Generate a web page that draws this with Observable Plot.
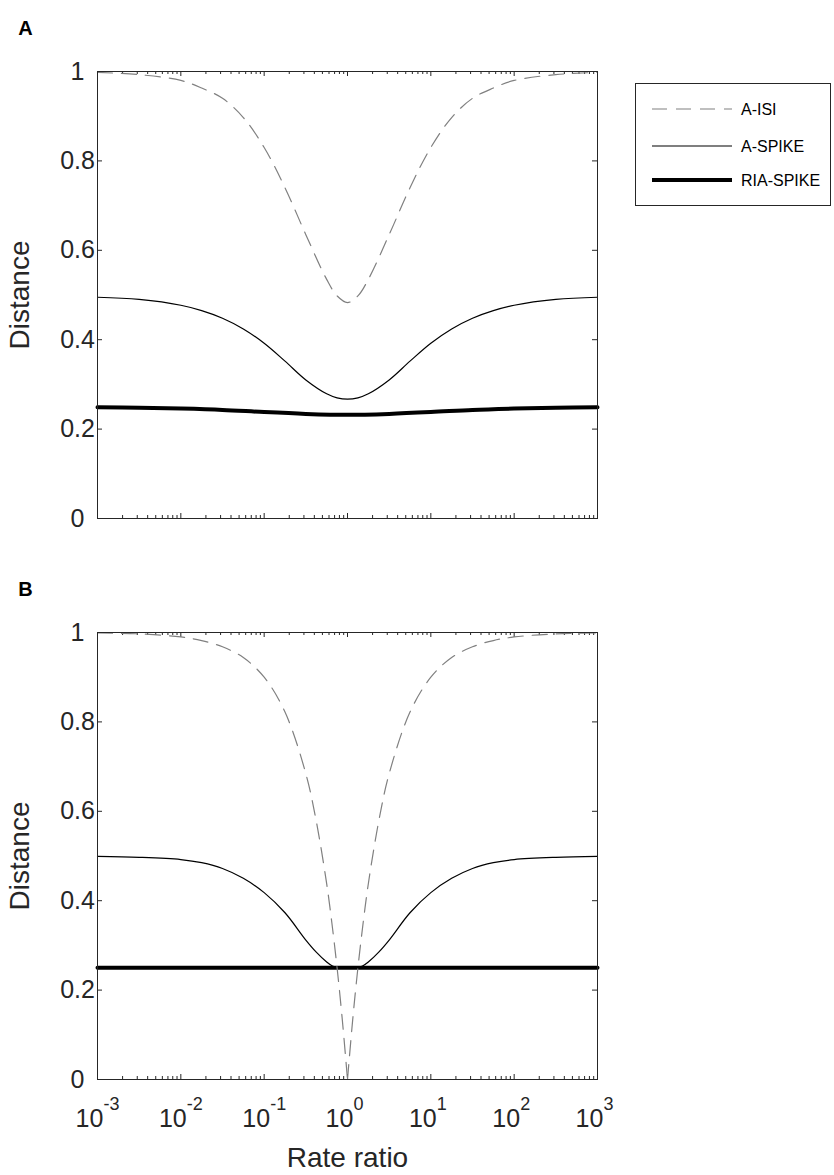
<!DOCTYPE html>
<html>
<head>
<meta charset="utf-8">
<script src="https://cdn.jsdelivr.net/npm/d3@7"></script>
<script src="https://cdn.jsdelivr.net/npm/@observablehq/plot@0.6"></script>
<style>
  html, body { margin: 0; padding: 0; background: #fff; }
  #root { position: relative; width: 834px; height: 1175px; font-family: "Liberation Sans", Arial, sans-serif; }
  #root svg { position: absolute; left: 0; }
  #legend { position: absolute; left: 635px; top: 83px; width: 196px; height: 123px; border: 1px solid #262626; box-sizing: border-box; background: #fff; }
</style>
</head>
<body>
<div id="root"></div>
<script>
// ---- Data ----
// x positions given as exponents of 10 (rate ratio = 10^exp)
const expA = [-3, -2.5, -2, -1.75, -1.5, -1.25, -1, -0.75, -0.5, -0.25, -0.125, 0, 0.125, 0.25, 0.5, 0.75, 1, 1.25, 1.5, 1.75, 2, 2.5, 3];
const aIsiA = [0.998, 0.993, 0.98, 0.963, 0.94, 0.897, 0.83, 0.74, 0.635, 0.535, 0.498, 0.483, 0.498, 0.535, 0.635, 0.74, 0.83, 0.897, 0.94, 0.963, 0.98, 0.993, 0.998];
const aSpikeA = [0.495, 0.49, 0.477, 0.465, 0.448, 0.424, 0.392, 0.352, 0.31, 0.279, 0.27, 0.267, 0.27, 0.279, 0.31, 0.352, 0.392, 0.424, 0.448, 0.465, 0.477, 0.49, 0.495];
const expRiaA = [-3, -2.5, -2, -1.5, -1, -0.5, 0, 0.5, 1, 1.5, 2, 2.5, 3];
const riaSpikeA = [0.249, 0.248, 0.246, 0.243, 0.238, 0.234, 0.232, 0.234, 0.238, 0.243, 0.246, 0.248, 0.249];

// panel B A-ISI: left branch and right branch (sharp V at rate ratio 1)
const expIsiBLeft = [-3, -2.5, -2, -1.75, -1.5, -1.25, -1, -0.75, -0.5, -0.375, -0.25, -0.1875, -0.125, -0.0625, 0];
const aIsiBLeft = [0.999, 0.997, 0.99, 0.982, 0.968, 0.944, 0.9, 0.822, 0.684, 0.578, 0.438, 0.35, 0.25, 0.134, 0];
const expIsiBRight = [0, 0.0625, 0.125, 0.1875, 0.25, 0.375, 0.5, 0.75, 1, 1.25, 1.5, 1.75, 2, 2.5, 3];
const aIsiBRight = [0, 0.134, 0.25, 0.35, 0.438, 0.578, 0.684, 0.822, 0.9, 0.944, 0.968, 0.982, 0.99, 0.997, 0.999];
const expSpikeB = [-3, -2.5, -2, -1.75, -1.5, -1.25, -1, -0.75, -0.5, -0.375, -0.25, -0.18, -0.12, 0, 0.12, 0.18, 0.25, 0.375, 0.5, 0.75, 1, 1.25, 1.5, 1.75, 2, 2.5, 3];
const aSpikeB = [0.499, 0.497, 0.492, 0.485, 0.472, 0.45, 0.418, 0.373, 0.312, 0.285, 0.263, 0.254, 0.25, 0.25, 0.25, 0.254, 0.263, 0.285, 0.312, 0.373, 0.418, 0.45, 0.472, 0.485, 0.492, 0.497, 0.499];
const expRiaB = [-3, 0, 3];
const riaSpikeB = [0.25, 0.25, 0.25];

const yTicks = [0, 0.2, 0.4, 0.6, 0.8, 1];
const xTickExps = [-3, -2, -1, 0, 1, 2, 3];
const minorFactors = [2, 3, 4, 5, 6, 7, 8, 9];
const seriesNames = ["A-ISI", "A-SPIKE", "RIA-SPIKE"];

// ---- helpers ----
const AX = "#262626";
const ISI_COLOR = "#808080";
const DASH = "15,9";
const FONT = "Liberation Sans, Arial, Helvetica, sans-serif";
const toPts = (exps, vals) => exps.map((e, i) => ({x: Math.pow(10, e), y: vals[i]}));
const xMajor = xTickExps.map(e => Math.pow(10, e));
const xMinor = xTickExps.slice(0, -1).flatMap(e => minorFactors.map(f => f * Math.pow(10, e)));

const W = 834, ML = 97, MR = 237;
const PW = W - ML - MR; // 500
const PH = 447;
const TICK_FS = 25, LABEL_FS = 28, SUP_FS = 18;

function panel({top, height, mt, mb, letter, isiParts, spike, ria, showX}) {
  const marks = [
    // ticks inside the box
    Plot.tickY(yTicks, {y: d => d, insetRight: PW - 5, stroke: AX}),
    Plot.tickY(yTicks, {y: d => d, insetLeft: PW - 5, stroke: AX}),
    Plot.tickX(xMajor, {x: d => d, insetTop: PH - 5, stroke: AX}),
    Plot.tickX(xMajor, {x: d => d, insetBottom: PH - 5, stroke: AX}),
    Plot.tickX(xMinor, {x: d => d, insetTop: PH - 3, stroke: AX}),
    Plot.tickX(xMinor, {x: d => d, insetBottom: PH - 3, stroke: AX}),
    // data lines
    Plot.line(ria, {x: "x", y: "y", stroke: "#000", strokeWidth: 4, curve: "catmull-rom"}),
    Plot.line(spike, {x: "x", y: "y", stroke: "#000", strokeWidth: 1.2, curve: "catmull-rom"}),
    ...isiParts.map(p => Plot.line(p, {x: "x", y: "y", stroke: ISI_COLOR, strokeWidth: 1.2, strokeDasharray: DASH, curve: "catmull-rom"})),
    Plot.frame({stroke: AX, strokeWidth: 1}),
    // y tick labels
    Plot.text(yTicks, {y: d => d, text: d => String(d), frameAnchor: "left", dx: -20, textAnchor: "middle", lineAnchor: "middle", fontSize: TICK_FS, fill: AX}),
    // y axis label
    Plot.text(["Distance"], {frameAnchor: "left", dx: -77, rotate: -90, textAnchor: "middle", lineAnchor: "middle", fontSize: LABEL_FS, fill: AX}),
    // panel letter
    Plot.text([letter], {frameAnchor: "top-left", dx: -72, dy: -43, textAnchor: "middle", lineAnchor: "middle", fontSize: 20, fontWeight: "bold", fill: "#000"})
  ];
  if (showX) {
    marks.push(
      Plot.text(xTickExps, {x: e => Math.pow(10, e), text: () => "10", frameAnchor: "bottom", dy: 39, dx: -8, textAnchor: "middle", lineAnchor: "middle", fontSize: TICK_FS, fill: AX}),
      Plot.text(xTickExps, {x: e => Math.pow(10, e), text: e => String(e), frameAnchor: "bottom", dy: 25, dx: 6, textAnchor: "start", lineAnchor: "middle", fontSize: SUP_FS, fill: AX}),
      Plot.text(["Rate ratio"], {frameAnchor: "bottom", dy: 79, textAnchor: "middle", lineAnchor: "middle", fontSize: LABEL_FS, fill: AX})
    );
  }
  const svg = Plot.plot({
    width: W, height,
    marginLeft: ML, marginRight: MR, marginTop: mt, marginBottom: mb,
    style: {fontFamily: FONT, background: "transparent", overflow: "visible"},
    x: {type: "log", domain: [1e-3, 1e3], axis: null},
    y: {domain: [0, 1], axis: null},
    marks
  });
  svg.style.top = top + "px";
  return svg;
}

const root = document.getElementById("root");
root.appendChild(panel({
  top: 0, height: 560, mt: 71, mb: 42, letter: "A",
  isiParts: [toPts(expA, aIsiA)], spike: toPts(expA, aSpikeA), ria: toPts(expRiaA, riaSpikeA), showX: false
}));
root.appendChild(panel({
  top: 560, height: 615, mt: 72, mb: 96, letter: "B",
  isiParts: [toPts(expIsiBLeft, aIsiBLeft), toPts(expIsiBRight, aIsiBRight)],
  spike: toPts(expSpikeB, aSpikeB), ria: toPts(expRiaB, riaSpikeB), showX: true
}));

// ---- legend ----
const legend = document.createElement("div");
legend.id = "legend";
const styles = [
  {stroke: ISI_COLOR, w: 1.2, dash: DASH},
  {stroke: "#000", w: 1.2, dash: null},
  {stroke: "#000", w: 4, dash: null}
];
const rowsY = [26, 63, 97];
let html = `<svg width="196" height="123" style="position:absolute;left:-1px;top:-1px">`;
seriesNames.forEach((name, i) => {
  const s = styles[i];
  html += `<line x1="17" x2="97" y1="${rowsY[i]}" y2="${rowsY[i]}" stroke="${s.stroke}" stroke-width="${s.w}" ${s.dash ? `stroke-dasharray="${s.dash}"` : ""}/>`;
  html += `<text x="106" y="${rowsY[i]}" dy="0.35em" font-size="16" font-family="${FONT}" fill="#000">${name}</text>`;
});
html += `</svg>`;
legend.innerHTML = html;
root.appendChild(legend);
</script>
</body>
</html>
